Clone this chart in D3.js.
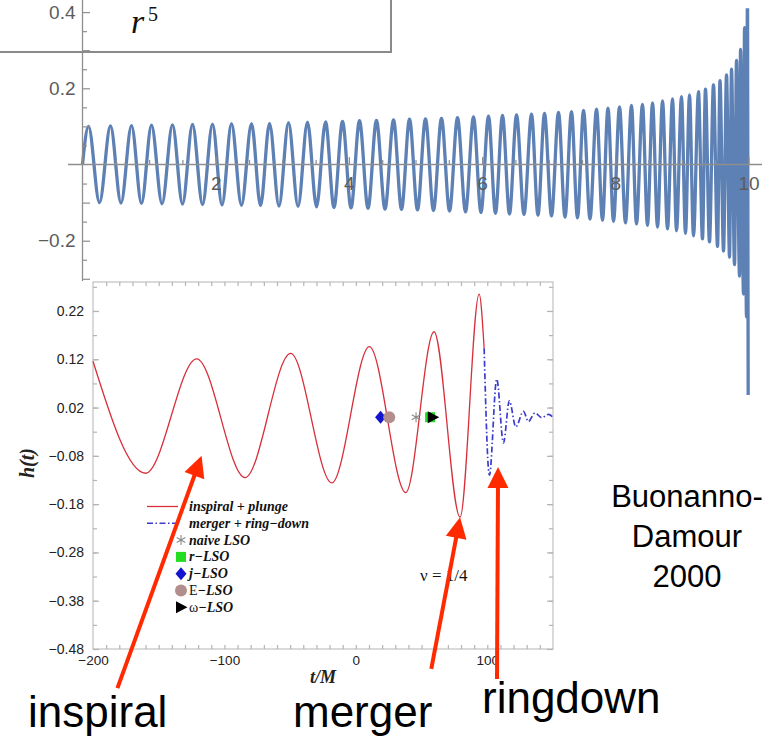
<!DOCTYPE html>
<html><head><meta charset="utf-8">
<script src="https://cdn.jsdelivr.net/npm/d3@7"></script>
<style>body{margin:0;background:#fff}svg{display:block}</style>
</head><body>
<svg id="fig" width="769" height="738"></svg>
<script>
// ---------- upper panel: inspiral chirp, successive extrema ----------
const chirpT = [0,0.090,0.255,0.420,0.578,0.736,0.886,1.036,1.194,1.351,1.502,1.652,1.802,1.952,2.095,2.237,2.387,2.538,2.673,2.808,2.950,
  3.093,3.236,3.378,3.514,3.649,3.776,3.904,4.032,4.159,4.287,4.414,4.542,4.670,4.790,4.910,5.030,5.150,5.270,5.390,5.511,5.631,5.751,
  5.871,5.983,6.096,6.201,6.306,6.411,6.517,6.629,6.742,6.839,6.937,7.042,7.147,7.245,7.342,7.432,7.523,7.620,7.718,7.808,7.890,7.973,
  8.063,8.153,8.243,8.318,8.408,8.483,8.559,8.634,8.709,8.784,8.859,8.919,8.994,9.054,9.114,9.174,9.249,9.309,9.354,9.414,9.474,9.535,
  9.572,9.625,9.670,9.715,9.745,9.790,9.820,9.865,9.880,9.925,9.940,9.970,9.985,9.995];
const chirpH = [0,0.100,-0.100,0.101,-0.101,0.102,-0.102,0.103,-0.103,0.104,-0.104,0.105,-0.105,0.106,-0.106,0.107,-0.107,0.107,-0.108,0.108,-0.109,
  0.110,-0.110,0.111,-0.111,0.112,-0.113,0.113,-0.114,0.115,-0.115,0.116,-0.117,0.117,-0.118,0.119,-0.119,0.120,-0.121,0.121,-0.122,0.123,-0.124,
  0.125,-0.126,0.127,-0.128,0.129,-0.130,0.130,-0.131,0.132,-0.133,0.134,-0.135,0.137,-0.138,0.139,-0.140,0.142,-0.143,0.145,-0.146,0.148,-0.149,
  0.151,-0.153,0.155,-0.156,0.158,-0.160,0.162,-0.164,0.167,-0.169,0.172,-0.174,0.178,-0.181,0.183,-0.187,0.191,-0.195,0.198,-0.203,0.209,-0.215,
  0.220,-0.227,0.235,-0.243,0.250,-0.263,0.273,-0.293,0.302,-0.340,0.359,-0.400,0.508,-0.605];
const upperXTicks = [2, 4, 6, 8, 10];
const upperYTicks = [0.4, 0.2, -0.2];

// ---------- lower panel: EOB waveform, nu = 1/4 ----------
const inspiralT = [-200,-159.9,-121.1,-84.3,-49.6,-18.3,10.3,38.0,59.5,79.3,93.8,97.6];
const inspiralH = [0.116,-0.116,0.121,-0.125,0.132,-0.136,0.146,-0.156,0.177,-0.207,0.255,0.143];
const ringdownT = [97.6,101.6,107.2,112.3,116.8,121.7,127.5,131.3,136.3,141.4,146.5,150];
const ringdownH = [0.143,-0.120,0.079,-0.053,0.034,-0.020,0.012,-0.009,0.009,-0.001,0.006,0.0];
const lsoKinds = ["diamond", "circle", "asterisk", "square", "triangle"];
const lsoT = [18.8, 25.4, 45.8, 56.5, 58.5];
const lsoH = [0, 0, 0, 0, 0];
const lowerXTicks = [-200, -100, 0, 100];
const lowerYTicks = [0.22, 0.12, 0.02, -0.08, -0.18, -0.28, -0.38, -0.48];
const legendKinds = ["red", "blue", "asterisk", "square", "diamond", "circle", "triangle"];
const legendLead = ["", "", "", "", "", "E", "ω"];
const legendRest = ["inspiral + plunge", "merger + ring−down", "naive LSO", "r−LSO", "j−LSO", "−LSO", "−LSO"];

// ---------- annotations ----------
const stageLabels = ["inspiral", "merger", "ringdown"];
const arrowTail = [[-181.4, -0.561], [57.4, -0.521], [107.4, -0.542]];
const arrowTip = [[-117.4, -0.080], [79.3, -0.207], [108.2, -0.103]];
const creditLines = ["Buonanno-", "Damour", "2000"];

const svg = d3.select("#fig");
const minus = s => s.replace("-", "−");
const SANS = "'Liberation Sans', Arial, Helvetica, sans-serif";
const SERIF = "'Liberation Serif', 'Times New Roman', serif";

// ================= upper panel =================
const xTop = d3.scaleLinear().domain([0, 10]).range([82.5, 748.5]);
const yTop = d3.scaleLinear().domain([0, 0.2]).range([164.5, 88.3]);
const up = svg.append("g");

up.append("clipPath").attr("id", "upclip").append("rect")
  .attr("x", 0).attr("y", yTop(0.41)).attr("width", 769).attr("height", 738);

const chirp = d3.zip(chirpT, chirpH);
up.append("path").datum(chirp)
  .attr("clip-path", "url(#upclip)")
  .attr("fill", "none").attr("stroke", "#5E81B5").attr("stroke-width", 3.3)
  .attr("stroke-linejoin", "round")
  .attr("d", d3.line().x(d => xTop(d[0])).y(d => yTop(d[1])).curve(d3.curveMonotoneX));

const axCol = "#8e8e8e", lblCol = "#5c5c5c";
// axis lines
up.append("line").attr("x1", 68).attr("x2", 762).attr("y1", yTop(0)).attr("y2", yTop(0))
  .attr("stroke", axCol).attr("stroke-width", 1.3);
up.append("line").attr("x1", xTop(0)).attr("x2", xTop(0)).attr("y1", 0).attr("y2", 281)
  .attr("stroke", axCol).attr("stroke-width", 1.3);

function styleAxis(g, col) {
  g.select(".domain").remove();
  g.selectAll(".tick line").attr("stroke", col).attr("stroke-width", 1.2);
}
// x ticks (drawn upward from the axis)
const xMinor = d3.range(0.5, 10.01, 0.5).filter(v => Math.abs(v / 2 - Math.round(v / 2)) > 1e-6);
up.append("g").attr("transform", `translate(0,${yTop(0)})`)
  .call(d3.axisBottom(xTop).tickValues(xMinor).tickSizeInner(-4.5).tickSizeOuter(0).tickFormat(""))
  .call(g => styleAxis(g, axCol));
up.append("g").attr("transform", `translate(0,${yTop(0)})`)
  .call(d3.axisBottom(xTop).tickValues(upperXTicks).tickSizeInner(-7.5).tickSizeOuter(0).tickPadding(12).tickFormat(d3.format("d")))
  .call(g => styleAxis(g, axCol))
  .call(g => g.selectAll("text").attr("fill", lblCol).style("font", `19px ${SANS}`));
// y ticks (drawn to the right of the axis)
const yMinor = d3.range(-0.3, 0.451, 0.05).filter(v => Math.abs(v * 10 - Math.round(v * 10)) > 1e-6);
const yMajorAll = [0.4, 0.3, 0.2, 0.1, -0.1, -0.2, -0.3];
up.append("g").attr("transform", `translate(${xTop(0)},0)`)
  .call(d3.axisRight(yTop).tickValues(yMinor).tickSizeInner(4.5).tickSizeOuter(0).tickFormat(""))
  .call(g => styleAxis(g, axCol));
up.append("g").attr("transform", `translate(${xTop(0)},0)`)
  .call(d3.axisRight(yTop).tickValues(yMajorAll).tickSizeInner(7.5).tickSizeOuter(0).tickFormat(""))
  .call(g => styleAxis(g, axCol));
up.append("g").attr("transform", `translate(${xTop(0) - 1},0)`)
  .call(d3.axisLeft(yTop).tickValues(upperYTicks).tickSize(0).tickPadding(6).tickFormat(d => minus(d3.format(".1f")(d))))
  .call(g => g.select(".domain").remove())
  .call(g => g.selectAll("text").attr("fill", lblCol).style("font", `19px ${SANS}`));

// framed expression in the upper-left corner
up.append("rect").attr("x", -4).attr("y", -4).attr("width", 395).attr("height", 56)
  .attr("fill", "none").attr("stroke", "#8a8a8a").attr("stroke-width", 2);
up.append("text").attr("x", 131).attr("y", 33).attr("fill", "#111")
  .style("font", `italic 34px ${SERIF}`).text("r");
up.append("text").attr("x", 148).attr("y", 21).attr("fill", "#111")
  .style("font", `20px ${SERIF}`).text("5");

// ================= lower panel =================
const xIn = d3.scaleLinear().domain([-200, 150]).range([93, 553]);
const yIn = d3.scaleLinear().domain([-0.48, 0.28]).range([649, 282]);
const lo = svg.append("g");

lo.append("rect").attr("x", 0).attr("y", 281).attr("width", 562).attr("height", 420).attr("fill", "#fff");

const frameCol = "#b4b4b4";
lo.append("rect").attr("x", xIn(-200)).attr("y", yIn(0.28))
  .attr("width", xIn(150) - xIn(-200)).attr("height", yIn(-0.48) - yIn(0.28))
  .attr("fill", "none").attr("stroke", frameCol).attr("stroke-width", 1);

const xt = d3.range(-190, 150, 10);
const yt = d3.range(-0.43, 0.28, 0.05);
const frameTicks = (axisFn, scale, vals, size, tr) =>
  lo.append("g").attr("transform", tr)
    .call(axisFn(scale).tickValues(vals).tickSizeInner(size).tickSizeOuter(0).tickFormat(""))
    .call(g => styleAxis(g, frameCol));
frameTicks(d3.axisTop, xIn, xt, 4, `translate(0,${yIn(-0.48)})`);
frameTicks(d3.axisBottom, xIn, xt, 4, `translate(0,${yIn(0.28)})`);
frameTicks(d3.axisRight, yIn, yt, 4, `translate(${xIn(-200)},0)`);
frameTicks(d3.axisLeft, yIn, yt, 4, `translate(${xIn(150)},0)`);
frameTicks(d3.axisRight, yIn, lowerYTicks, 6, `translate(${xIn(-200)},0)`);
frameTicks(d3.axisLeft, yIn, lowerYTicks, 6, `translate(${xIn(150)},0)`);

lo.append("g").attr("transform", `translate(${xIn(-200)},0)`)
  .call(d3.axisLeft(yIn).tickValues(lowerYTicks).tickSize(0).tickPadding(9).tickFormat(d => minus(d3.format(".2f")(d))))
  .call(g => g.select(".domain").remove())
  .call(g => g.selectAll("text").attr("fill", "#222").style("font", `14px ${SANS}`));
lo.append("g").attr("transform", `translate(0,${yIn(-0.48)})`)
  .call(d3.axisBottom(xIn).tickValues(lowerXTicks).tickSize(0).tickPadding(6).tickFormat(d => minus(d3.format("d")(d))))
  .call(g => g.select(".domain").remove())
  .call(g => g.selectAll("text").attr("fill", "#222").style("font", `13.5px ${SANS}`));

lo.append("text").attr("x", 323).attr("y", 683).attr("text-anchor", "middle").attr("fill", "#222")
  .style("font", `italic bold 18px ${SERIF}`).text("t/M");
lo.append("text").attr("transform", "translate(34,463) rotate(-90)").attr("text-anchor", "middle").attr("fill", "#222")
  .style("font", `italic bold 20px ${SERIF}`).text("h(t)");

const lineIn = d3.line().x(d => xIn(d[0])).y(d => yIn(d[1])).curve(d3.curveMonotoneX);
lo.append("path").datum(d3.zip(inspiralT, inspiralH))
  .attr("fill", "none").attr("stroke", "#d8303a").attr("stroke-width", 1.3).attr("d", lineIn);
lo.append("path").datum(d3.zip(ringdownT, ringdownH))
  .attr("fill", "none").attr("stroke", "#3c3ccc").attr("stroke-width", 1.7)
  .attr("stroke-dasharray", "6,2.5,1.5,2.5").attr("d", lineIn);

function marker(g, kind, x, y, s) {
  if (kind === "diamond") {
    g.append("path").attr("d", `M${x},${y - 6.5*s}L${x + 5.5*s},${y}L${x},${y + 6.5*s}L${x - 5.5*s},${y}Z`).attr("fill", "#1414d0");
  } else if (kind === "circle") {
    g.append("circle").attr("cx", x).attr("cy", y).attr("r", 6 * s).attr("fill", "#b28e8c");
  } else if (kind === "square") {
    g.append("rect").attr("x", x - 5 * s).attr("y", y - 5 * s).attr("width", 10 * s).attr("height", 10 * s).attr("fill", "#22dd22");
  } else if (kind === "triangle") {
    g.append("path").attr("d", `M${x - 5*s},${y - 6*s}L${x + 6.5*s},${y}L${x - 5*s},${y + 6*s}Z`).attr("fill", "#000");
  } else if (kind === "asterisk") {
    const r = 5 * s, a = r * Math.sqrt(3) / 2, b = r / 2;
    g.append("path").attr("d", `M${x},${y - r}V${y + r}M${x - a},${y - b}L${x + a},${y + b}M${x - a},${y + b}L${x + a},${y - b}`)
      .attr("stroke", "#8a8a8a").attr("stroke-width", 1.1).attr("fill", "none");
  }
}
lsoKinds.forEach((k, i) => marker(lo, k, xIn(lsoT[i]), yIn(lsoH[i]), 1));

// legend
const lg = lo.append("g");
legendKinds.forEach((k, i) => {
  const y = 511 + i * 16.8, cy = y - 4.5;
  if (k === "red") {
    lg.append("line").attr("x1", 147).attr("x2", 178).attr("y1", cy).attr("y2", cy).attr("stroke", "#d8303a").attr("stroke-width", 1.3);
  } else if (k === "blue") {
    lg.append("line").attr("x1", 147).attr("x2", 178).attr("y1", cy).attr("y2", cy).attr("stroke", "#3c3ccc")
      .attr("stroke-width", 1.5).attr("stroke-dasharray", "6,2.5,1.5,2.5");
  } else {
    marker(lg, k, 181, cy, 1);
  }
  const t = lg.append("text").attr("x", 189).attr("y", y).attr("fill", "#111").style("font-family", SERIF).style("font-size", "14px");
  if (legendLead[i]) t.append("tspan").style("font-style", "normal").style("font-weight", "normal").text(legendLead[i]);
  t.append("tspan").style("font-style", "italic").style("font-weight", "bold").text(legendRest[i]);
});

lo.append("text").attr("x", 420).attr("y", 581).attr("fill", "#111")
  .style("font", `17px ${SERIF}`).text("ν = 1/4");

// ================= annotations =================
const ann = svg.append("g");
ann.selectAll("text.credit").data(creditLines).join("text").attr("class", "credit")
  .attr("x", 687).attr("y", (d, i) => 507 + i * 40).attr("text-anchor", "middle").attr("fill", "#000")
  .style("font", `31px ${SANS}`).text(d => d);

const stageX = [28, 293, 482], stageY = [727, 727, 713];
ann.selectAll("text.stage").data(stageLabels).join("text").attr("class", "stage")
  .attr("x", (d, i) => stageX[i]).attr("y", (d, i) => stageY[i]).attr("fill", "#000")
  .style("font", `44px ${SANS}`).text(d => d);

const arrowCol = "#ff2a00";
arrowTail.forEach((tail, i) => {
  const x0 = xIn(tail[0]), y0 = yIn(tail[1]);
  const x1 = xIn(arrowTip[i][0]), y1 = yIn(arrowTip[i][1]);
  const dx = x1 - x0, dy = y1 - y0, L = Math.hypot(dx, dy), ux = dx / L, uy = dy / L;
  const hl = 21, hw = 10.5;
  const bx = x1 - ux * hl, by = y1 - uy * hl;
  ann.append("line").attr("x1", x0).attr("y1", y0).attr("x2", bx + ux * 2).attr("y2", by + uy * 2)
    .attr("stroke", arrowCol).attr("stroke-width", 4);
  ann.append("path").attr("d", `M${x1},${y1}L${bx - uy * hw},${by + ux * hw}L${bx + uy * hw},${by - ux * hw}Z`)
    .attr("fill", arrowCol);
});
</script>
</body></html>
